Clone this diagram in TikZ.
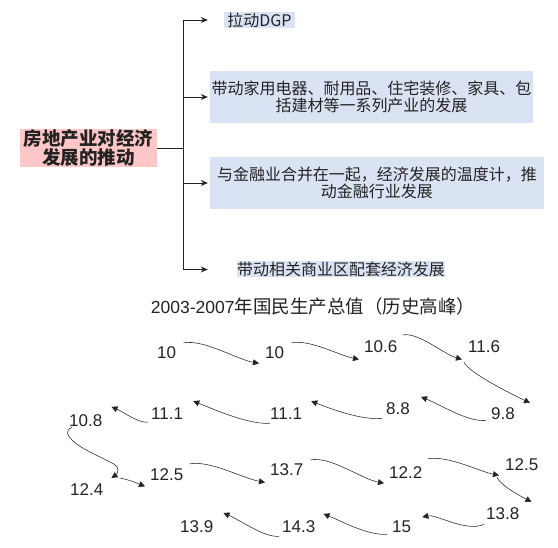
\documentclass[tikz,border=0pt]{standalone}
\usepackage{fontspec}
\setmainfont{Liberation Sans}
\newfontfamily\cjk{Noto Sans CJK SC}
\usetikzlibrary{arrows.meta,positioning}
\definecolor{leafblue} {RGB}{218,227,243}
\definecolor{rootpink} {RGB}{255,199,199}
\definecolor{inkgray}  {RGB}{35 , 35, 35}

\begin{document}
\begin{tikzpicture}[
  x=1pt, y=-1pt,
  every node/.style={inner sep=0pt, text=inkgray},
  root/.style={fill=rootpink, minimum width=137pt, minimum height=38pt, align=center, font=\cjk\bfseries\fontsize{18.5}{19}\selectfont},
  leaf/.style={fill=leafblue, align=center, font=\cjk\fontsize{16}{17}\selectfont},
  branch/.style={-{Stealth[length=7pt,width=6pt]}, line width=0.8pt, inkgray},
  num/.style={font=\fontsize{17}{17}\selectfont, anchor=base west},
  trend/.style={-{Triangle[length=6pt,width=6pt]}, line width=0.55pt, inkgray}
]
  \useasboundingbox (0,0) rectangle (558,548);

  % Tree
  \node (root) [root] at (88.5,148) {房地产业对经济\\发展的推动};
  \coordinate (fork) at (183,148);

  \node (gdp) [leaf, minimum width=71pt, minimum height=16pt] at (259.5,20) {拉动DGP};
  \node (home) [leaf, minimum width=323pt, minimum height=52pt] at (371.5,97) {带动家用电器、耐用品、住宅装修、家具、包\\括建材等一系列产业的发展};
  \node (finance) [leaf, minimum width=334pt, minimum height=52pt] at (377,183) {与金融业合并在一起，经济发展的温度计，推\\动金融行业发展};
  \node (trade) [leaf, minimum width=208pt, minimum height=16pt] at (341,269.5) {带动相关商业区配套经济发展};

  \draw [line width=0.8pt, inkgray] (root.east) -- (fork);
  \draw [branch, shorten >=16pt] (fork) |- (gdp.west);
  \draw [branch, shorten >=2pt] (fork) |- (home.west);
  \draw [branch, shorten >=2pt] (fork) |- (finance.west);
  \draw [branch, shorten >=29pt] (fork) |- (trade.west);

  % Title
  \node (title) [font=\fontsize{17.5}{17.5}\selectfont] at (313,306) {2003-2007{\cjk\fontsize{18.5}{18.5}\selectfont 年国民生产总值（历史高峰）}};

  % Values
  \node (n1) [num] at (157,359) {10};
  \node (n2) [num] at (265,359) {10};
  \node (n3) [num] at (364,353) {10.6};
  \node (n4) [num] at (468,353) {11.6};
  \node (n5) [num] at (491,420) {9.8};
  \node (n6) [num] at (386,415) {8.8};
  \node (n7) [num] at (270,420) {11.1};
  \node (n8) [num] at (151,420) {11.1};
  \node (n9) [num] at (69,427) {10.8};
  \node (n10) [num] at (70,496) {12.4};
  \node (n11) [num] at (150,481) {12.5};
  \node (n12) [num] at (270,476) {13.7};
  \node (n13) [num] at (389,479) {12.2};
  \node (n14) [num] at (505,471) {12.5};
  \node (n15) [num] at (486,520) {13.8};
  \node (n16) [num] at (392,533) {15};
  \node (n17) [num] at (282,533) {14.3};
  \node (n18) [num] at (180,533) {13.9};

  % Curves
  \draw [trend] ([shift={(7,-4)}]n1.north east) .. controls +(20,-4) and +(-22,-4) .. ([shift={(-6,4)}]n2.south west);
  \draw [trend] ([shift={(7,-4)}]n2.north east) .. controls +(18,-4) and +(-20,-4) .. ([shift={(-5,6)}]n3.south west);
  \draw [trend] ([shift={(5,-6)}]n3.north east) .. controls +(16,-3) and +(-18,-5) .. ([shift={(-6,6)}]n4.south west);
  \draw [trend] ([shift={(-4,9)}]n4.south west) .. controls +(5,10) and +(-25,-12) .. ([shift={(15,-5)}]n5.north east);
  \draw [trend] ([shift={(-5,0)}]n5.south west) .. controls +(-18,2) and +(20,8) .. ([shift={(11,-6)}]n6.north east);
  \draw [trend] ([shift={(-4,3)}]n6.south west) .. controls +(-20,2) and +(20,8) .. ([shift={(9,-7)}]n7.north east);
  \draw [trend] ([shift={(0,3)}]n7.south west) .. controls +(-20,2) and +(20,8) .. ([shift={(10,-7)}]n8.north east);
  \draw [trend] ([shift={(-3,2)}]n8.south west) .. controls +(-10,1) and +(12,5) .. ([shift={(9,-8)}]n9.north east);
  \draw [trend] ([shift={(3,0)}]n9.south west) .. controls +(-14,6) and +(-10,-5) .. (90,452) -- (114,464) .. controls +(6,3) and +(6,-4) .. ([shift={(8,-6)}]n10.north east);
  \draw [trend] ([shift={(16,-6)}]n10.north east) .. controls +(10,2) and +(-10,-4) .. ([shift={(-5,5)}]n11.south west);
  \draw [trend] ([shift={(6,-5)}]n11.north east) .. controls +(20,-4) and +(-22,-4) .. ([shift={(-5,6)}]n12.south west);
  \draw [trend] ([shift={(7,-4)}]n12.north east) .. controls +(20,-4) and +(-22,-4) .. ([shift={(-5,4)}]n13.south west);
  \draw [trend] ([shift={(5,-8)}]n13.north east) .. controls +(20,-4) and +(-20,-4) .. ([shift={(-6,4)}]n14.south west);
  \draw [trend] ([shift={(-8,6)}]n14.south west) .. controls +(4,8) and +(-15,-8) .. ([shift={(12,-6)}]n15.north east);
  \draw [trend] ([shift={(-2,4)}]n15.south west) .. controls +(-18,8) and +(14,-3) .. ([shift={(11,-4)}]n16.north east);
  \draw [trend] ([shift={(-5,1)}]n16.south west) .. controls +(-20,1) and +(20,8) .. ([shift={(8,-7)}]n17.north east);
  \draw [trend] ([shift={(-3,3)}]n17.south west) .. controls +(-15,1) and +(18,8) .. ([shift={(10,-8)}]n18.north east);
\end{tikzpicture}
\end{document}
